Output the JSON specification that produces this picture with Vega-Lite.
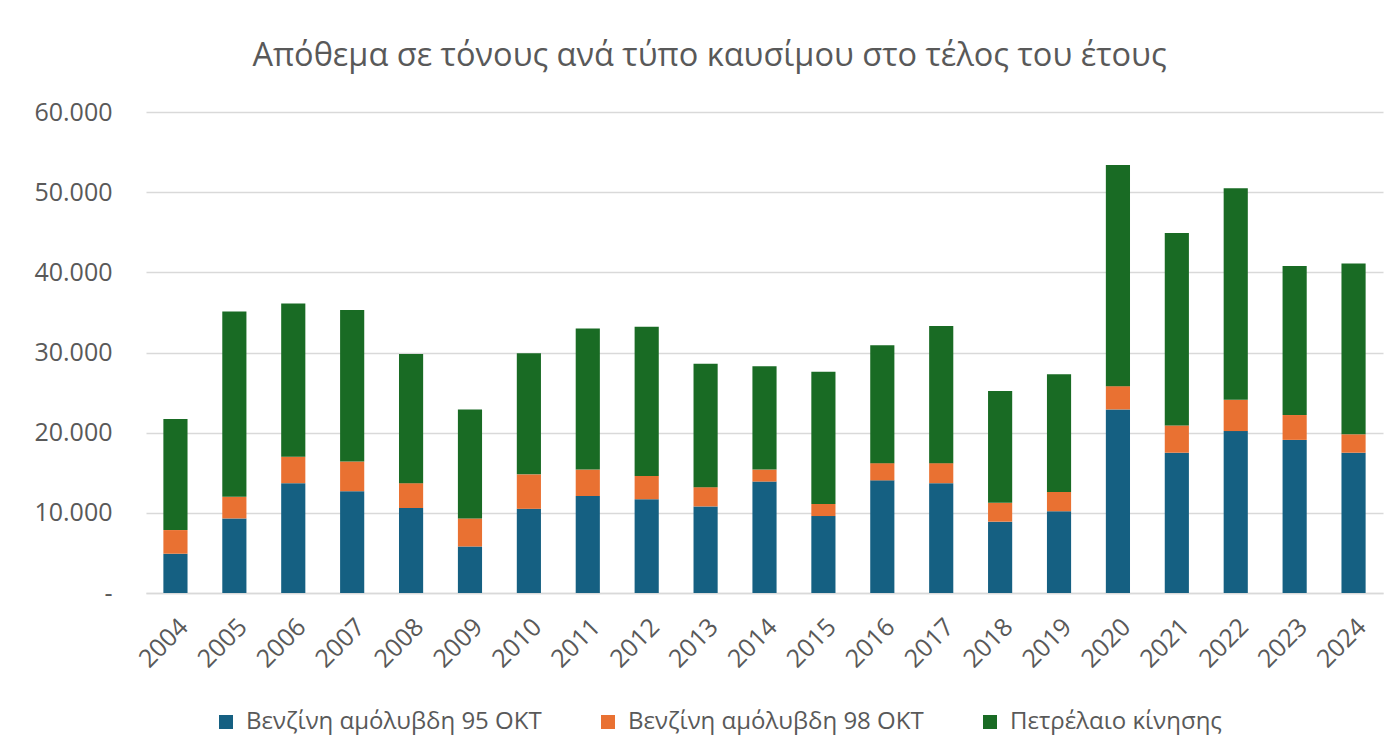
{
  "$schema": "https://vega.github.io/schema/vega-lite/v6.json",
  "autosize": {"type": "none"},
  "width": 1237,
  "height": 481,
  "padding": {"left": 146, "top": 112, "right": 7, "bottom": 161},
  "background": "white",
  "title": {
    "text": "Απόθεμα σε τόνους ανά τύπο καυσίμου στο τέλος του έτους",
    "font": "Open Sans",
    "fontSize": 32.5,
    "fontWeight": "normal",
    "color": "#595959",
    "anchor": "middle",
    "dx": -55,
    "baseline": "alphabetic",
    "offset": 2
  },
  "data": {
    "values": [
      {"year": "2004", "type": "Βενζίνη αμόλυβδη 95 ΟΚΤ", "value": 4900},
      {"year": "2004", "type": "Βενζίνη αμόλυβδη 98 ΟΚΤ", "value": 2950},
      {"year": "2004", "type": "Πετρέλαιο κίνησης", "value": 13850},
      {"year": "2005", "type": "Βενζίνη αμόλυβδη 95 ΟΚΤ", "value": 9300},
      {"year": "2005", "type": "Βενζίνη αμόλυβδη 98 ΟΚΤ", "value": 2700},
      {"year": "2005", "type": "Πετρέλαιο κίνησης", "value": 23100},
      {"year": "2006", "type": "Βενζίνη αμόλυβδη 95 ΟΚΤ", "value": 13700},
      {"year": "2006", "type": "Βενζίνη αμόλυβδη 98 ΟΚΤ", "value": 3300},
      {"year": "2006", "type": "Πετρέλαιο κίνησης", "value": 19100},
      {"year": "2007", "type": "Βενζίνη αμόλυβδη 95 ΟΚΤ", "value": 12700},
      {"year": "2007", "type": "Βενζίνη αμόλυβδη 98 ΟΚΤ", "value": 3700},
      {"year": "2007", "type": "Πετρέλαιο κίνησης", "value": 18900},
      {"year": "2008", "type": "Βενζίνη αμόλυβδη 95 ΟΚΤ", "value": 10600},
      {"year": "2008", "type": "Βενζίνη αμόλυβδη 98 ΟΚΤ", "value": 3100},
      {"year": "2008", "type": "Πετρέλαιο κίνησης", "value": 16100},
      {"year": "2009", "type": "Βενζίνη αμόλυβδη 95 ΟΚΤ", "value": 5800},
      {"year": "2009", "type": "Βενζίνη αμόλυβδη 98 ΟΚΤ", "value": 3500},
      {"year": "2009", "type": "Πετρέλαιο κίνησης", "value": 13600},
      {"year": "2010", "type": "Βενζίνη αμόλυβδη 95 ΟΚΤ", "value": 10500},
      {"year": "2010", "type": "Βενζίνη αμόλυβδη 98 ΟΚΤ", "value": 4300},
      {"year": "2010", "type": "Πετρέλαιο κίνησης", "value": 15100},
      {"year": "2011", "type": "Βενζίνη αμόλυβδη 95 ΟΚΤ", "value": 12100},
      {"year": "2011", "type": "Βενζίνη αμόλυβδη 98 ΟΚΤ", "value": 3300},
      {"year": "2011", "type": "Πετρέλαιο κίνησης", "value": 17600},
      {"year": "2012", "type": "Βενζίνη αμόλυβδη 95 ΟΚΤ", "value": 11700},
      {"year": "2012", "type": "Βενζίνη αμόλυβδη 98 ΟΚΤ", "value": 2900},
      {"year": "2012", "type": "Πετρέλαιο κίνησης", "value": 18600},
      {"year": "2013", "type": "Βενζίνη αμόλυβδη 95 ΟΚΤ", "value": 10800},
      {"year": "2013", "type": "Βενζίνη αμόλυβδη 98 ΟΚΤ", "value": 2400},
      {"year": "2013", "type": "Πετρέλαιο κίνησης", "value": 15400},
      {"year": "2014", "type": "Βενζίνη αμόλυβδη 95 ΟΚΤ", "value": 13900},
      {"year": "2014", "type": "Βενζίνη αμόλυβδη 98 ΟΚΤ", "value": 1500},
      {"year": "2014", "type": "Πετρέλαιο κίνησης", "value": 12900},
      {"year": "2015", "type": "Βενζίνη αμόλυβδη 95 ΟΚΤ", "value": 9600},
      {"year": "2015", "type": "Βενζίνη αμόλυβδη 98 ΟΚΤ", "value": 1500},
      {"year": "2015", "type": "Πετρέλαιο κίνησης", "value": 16500},
      {"year": "2016", "type": "Βενζίνη αμόλυβδη 95 ΟΚΤ", "value": 14050},
      {"year": "2016", "type": "Βενζίνη αμόλυβδη 98 ΟΚΤ", "value": 2150},
      {"year": "2016", "type": "Πετρέλαιο κίνησης", "value": 14700},
      {"year": "2017", "type": "Βενζίνη αμόλυβδη 95 ΟΚΤ", "value": 13700},
      {"year": "2017", "type": "Βενζίνη αμόλυβδη 98 ΟΚΤ", "value": 2500},
      {"year": "2017", "type": "Πετρέλαιο κίνησης", "value": 17100},
      {"year": "2018", "type": "Βενζίνη αμόλυβδη 95 ΟΚΤ", "value": 8900},
      {"year": "2018", "type": "Βενζίνη αμόλυβδη 98 ΟΚΤ", "value": 2350},
      {"year": "2018", "type": "Πετρέλαιο κίνησης", "value": 13950},
      {"year": "2019", "type": "Βενζίνη αμόλυβδη 95 ΟΚΤ", "value": 10200},
      {"year": "2019", "type": "Βενζίνη αμόλυβδη 98 ΟΚΤ", "value": 2400},
      {"year": "2019", "type": "Πετρέλαιο κίνησης", "value": 14700},
      {"year": "2020", "type": "Βενζίνη αμόλυβδη 95 ΟΚΤ", "value": 22900},
      {"year": "2020", "type": "Βενζίνη αμόλυβδη 98 ΟΚΤ", "value": 2900},
      {"year": "2020", "type": "Πετρέλαιο κίνησης", "value": 27600},
      {"year": "2021", "type": "Βενζίνη αμόλυβδη 95 ΟΚΤ", "value": 17500},
      {"year": "2021", "type": "Βενζίνη αμόλυβδη 98 ΟΚΤ", "value": 3400},
      {"year": "2021", "type": "Πετρέλαιο κίνησης", "value": 24000},
      {"year": "2022", "type": "Βενζίνη αμόλυβδη 95 ΟΚΤ", "value": 20200},
      {"year": "2022", "type": "Βενζίνη αμόλυβδη 98 ΟΚΤ", "value": 3900},
      {"year": "2022", "type": "Πετρέλαιο κίνησης", "value": 26400},
      {"year": "2023", "type": "Βενζίνη αμόλυβδη 95 ΟΚΤ", "value": 19100},
      {"year": "2023", "type": "Βενζίνη αμόλυβδη 98 ΟΚΤ", "value": 3100},
      {"year": "2023", "type": "Πετρέλαιο κίνησης", "value": 18600},
      {"year": "2024", "type": "Βενζίνη αμόλυβδη 95 ΟΚΤ", "value": 17500},
      {"year": "2024", "type": "Βενζίνη αμόλυβδη 98 ΟΚΤ", "value": 2300},
      {"year": "2024", "type": "Πετρέλαιο κίνησης", "value": 21300}
    ]
  },
  "mark": {"type": "bar"},
  "encoding": {
    "x": {
      "field": "year",
      "type": "ordinal",
      "scale": {"paddingInner": 0.59, "paddingOuter": 0.295},
      "axis": {
        "title": null,
        "labelAngle": -45,
        "labelFont": "Open Sans",
        "labelFontSize": 25,
        "labelColor": "#595959",
        "labelPadding": 21,
        "tickSize": 0,
        "domainColor": "#D9D9D9",
        "domainWidth": 1.5
      }
    },
    "y": {
      "field": "value",
      "type": "quantitative",
      "stack": "zero",
      "scale": {"domain": [0, 60000], "nice": false},
      "axis": {
        "title": null,
        "values": [0, 10000, 20000, 30000, 40000, 50000, 60000],
        "labelExpr": "datum.value == 0 ? '-\u00a0\u00a0' : replace(format(datum.value, ',.0f'), ',', '.')",
        "labelFont": "Open Sans",
        "labelFontSize": 25,
        "labelColor": "#595959",
        "labelPadding": 34,
        "tickSize": 0,
        "domain": false,
        "gridColor": "#D9D9D9",
        "gridWidth": 1.5
      }
    },
    "color": {
      "field": "type",
      "type": "nominal",
      "scale": {
        "domain": ["Βενζίνη αμόλυβδη 95 ΟΚΤ", "Βενζίνη αμόλυβδη 98 ΟΚΤ", "Πετρέλαιο κίνησης"],
        "range": ["#156082", "#E97132", "#196B24"]
      },
      "legend": {
        "title": null,
        "orient": "none",
        "direction": "horizontal",
        "legendX": 68,
        "legendY": 598,
        "symbolType": "square",
        "symbolSize": 196,
        "symbolStrokeWidth": 0,
        "labelFont": "Open Sans",
        "labelFontSize": 24,
        "labelLimit": 0,
        "labelColor": "#595959",
        "labelOffset": 8,
        "columnPadding": 54,
        "padding": 0
      }
    },
    "order": {"field": "type", "sort": "ascending"}
  },
  "config": {
    "view": {"stroke": null}
  }
}
